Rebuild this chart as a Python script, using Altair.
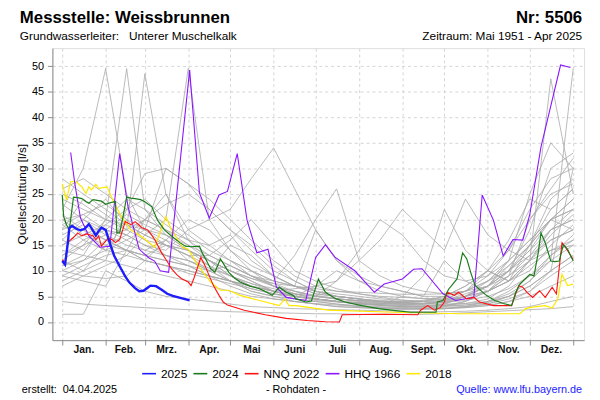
import altair as alt
import pandas as pd

# ---------------- axis data ----------------
month_starts = [0, 31, 59, 90, 120, 151, 181, 212, 243, 273, 304, 334, 365]
month_mids = [15.5, 45, 74.5, 105, 135.5, 166, 196.5, 227.5, 258, 288.5, 319, 349.5]
month_labels = ["Jan.", "Feb.", "Mrz.", "Apr.", "Mai", "Juni", "Juli", "Aug.", "Sept.", "Okt.", "Nov.", "Dez."]
y_ticks = [0, 5, 10, 15, 20, 25, 30, 35, 40, 45, 50]

# ---------------- highlighted series ----------------
series_names = ["2025", "2024", "NNQ 2022", "HHQ 1966", "2018"]
series_colors = ["#1c1cff", "#1a7d1a", "#ff1010", "#8a16ff", "#ffe800"]
series_widths = [2.4, 1.2, 1.1, 1.1, 1.2]

q2025_days = [0, 2, 4, 5, 7, 10, 13, 16, 19, 21, 24, 26, 28, 31, 34, 37, 41, 45, 48, 52, 55, 58, 61, 63, 67, 71, 75, 79, 83, 87, 91]
q2025_vals = [11.9, 11.2, 15.5, 18.3, 18.8, 18.2, 17.9, 18.2, 19.1, 18.3, 16.9, 17.8, 18.4, 18.0, 15.4, 13.0, 10.9, 8.9, 7.7, 6.6, 6.0, 6.1, 6.7, 7.1, 7.0, 6.3, 5.5, 5.1, 4.8, 4.5, 4.2]

q2024_days = [0, 1, 3, 5, 6, 8, 11, 14, 17, 19, 22, 24, 28, 31, 33, 36, 38, 39, 41, 43, 46, 49, 52, 56, 59, 64, 68, 73, 78, 84, 88, 92, 98, 100, 103, 106, 109, 113, 116, 119, 123, 127, 134, 141, 146, 150, 155, 160, 165, 167, 174, 178, 183, 188, 195, 202, 214, 226, 238, 249, 260, 267, 268, 272, 276, 282, 286, 289, 292, 295, 303, 309, 315, 321, 324, 327, 331, 334, 337, 340, 342, 345, 349, 352, 355, 358, 361, 365]
q2024_vals = [24.8, 20.6, 19.0, 18.0, 20.0, 24.4, 24.3, 24.1, 23.5, 23.2, 23.9, 23.8, 23.6, 23.0, 23.2, 23.4, 23.5, 17.4, 17.4, 20.0, 24.4, 24.2, 24.1, 23.9, 23.5, 22.5, 19.9, 18.0, 16.8, 15.5, 14.8, 14.7, 14.8, 13.5, 12.0, 10.4, 9.7, 12.3, 11.0, 9.7, 8.6, 7.8, 7.0, 6.5, 5.8, 5.2, 6.8, 5.8, 5.2, 4.5, 3.9, 4.1, 8.4, 5.8, 4.6, 3.9, 3.2, 2.6, 2.2, 1.9, 1.9, 1.9, 3.9, 4.2, 6.4, 8.4, 13.5, 12.3, 9.5, 7.1, 5.2, 4.2, 3.6, 3.2, 5.8, 7.4, 8.5, 9.3, 9.0, 13.5, 17.4, 15.5, 11.9, 11.8, 11.9, 15.1, 14.2, 11.9]

q2022_days = [0, 2, 4, 5, 8, 11, 14, 17, 19, 22, 24, 26, 28, 31, 33, 36, 38, 41, 45, 49, 52, 55, 57, 61, 63, 66, 71, 75, 78, 82, 85, 90, 92, 94, 99, 102, 105, 108, 112, 115, 118, 130, 145, 160, 175, 188, 198, 200, 230, 254, 256, 261, 266, 270, 273, 275, 280, 283, 289, 294, 298, 308, 321, 326, 329, 332, 336, 341, 345, 350, 353, 357, 359, 365]
q2022_vals = [12.2, 11.6, 15.5, 15.8, 16.5, 17.4, 16.8, 17.2, 17.1, 16.8, 16.1, 16.8, 14.8, 15.8, 16.4, 16.0, 15.5, 16.1, 19.6, 19.0, 19.6, 18.9, 18.4, 18.0, 17.3, 16.1, 13.5, 11.8, 10.4, 9.2, 8.5, 7.8, 7.1, 8.5, 12.6, 11.0, 9.0, 7.1, 5.2, 3.9, 3.3, 2.3, 1.4, 0.7, 0.3, 0.05, 0.0, 1.4, 1.5, 1.4, 2.3, 3.2, 2.3, 2.8, 3.9, 5.8, 5.2, 5.8, 4.5, 4.8, 3.9, 3.2, 3.2, 7.1, 6.8, 5.8, 4.8, 6.1, 4.8, 6.8, 5.5, 15.5, 14.8, 12.2]

q1966_days = [6, 9, 13, 19, 27, 34, 41, 47, 55, 62, 66, 70, 76, 91, 98, 105, 112, 118, 125, 132, 139, 147, 153, 160, 167, 174, 181, 188, 195, 209, 223, 230, 243, 251, 257, 272, 281, 294, 300, 308, 315, 322, 329, 334, 342, 356, 363]
q1966_vals = [33.1, 27.0, 20.3, 16.8, 14.6, 14.8, 32.9, 22.5, 14.2, 12.5, 11.9, 10.0, 9.7, 49.2, 25.2, 20.3, 24.8, 25.5, 32.9, 19.9, 13.5, 14.2, 6.8, 4.8, 4.5, 4.2, 12.6, 15.1, 12.6, 10.0, 5.8, 7.4, 8.4, 10.3, 10.4, 5.5, 4.2, 4.8, 24.8, 19.9, 12.9, 16.1, 16.0, 21.0, 34.2, 50.2, 49.7]

q2018_days = [0, 3, 6, 10, 14, 17, 19, 21, 24, 26, 32, 35, 42, 49, 58, 66, 74, 78, 86, 90, 97, 106, 113, 119, 127, 141, 155, 159, 162, 167, 190, 237, 284, 327, 331, 336, 345, 350, 354, 357, 361, 365]
q2018_vals = [27.0, 23.8, 27.4, 27.4, 26.4, 25.1, 26.4, 25.8, 26.9, 26.1, 26.4, 24.5, 20.6, 18.0, 16.4, 14.6, 20.6, 18.0, 14.6, 14.2, 11.0, 7.8, 6.2, 6.2, 5.2, 4.2, 3.2, 4.5, 3.2, 3.2, 2.3, 1.9, 1.6, 1.6, 2.6, 2.9, 3.2, 2.7, 4.5, 9.3, 7.1, 7.4]

# ---------------- other years (grey), half-monthly readings ----------------
grid_days = [0, 15, 31, 46, 59, 74, 90, 105, 120, 135, 151, 166, 181, 196, 212, 227, 243, 258, 273, 288, 304, 319, 334, 349, 365]
g1951 = [None, None, None, None, None, None, None, None, 12, 10, 8, 7, 6, 5.5, 5, 4.5, 4.2, 4.0, 4.2, 5, 7, 10, 15, 22, 26]
g1952 = [22, 30, 49.5, 25, 18, 15, 13, 10, 8, 6, 5, 4, 3.5, 3, 2.8, 2.6, 2.5, 2.6, 3, 4, 6, 8, 12, 16, 18]
g1953 = [12, 15, 20, 49.5, 22, 17, 14, 11, 8, 6, 5, 4.5, 4, 3.5, 3.2, 3, 2.8, 3, 3.5, 5, 8, 11, 15, 20, 22]
g1954 = [18, 24, 21, 18, 48.5, 25, 16, 12, 9, 7, 5.5, 4.5, 4, 3.5, 3, 2.8, 2.6, 2.5, 2.6, 3, 4, 6, 9, 13, 16]
g1955 = [16, 20, 24, 19, 17, 20, 49.5, 20, 14, 10, 7, 5.5, 4.5, 4, 3.5, 3.3, 3, 3, 3.5, 5, 7, 10, 14, 18, 20]
g1956 = [8, 10, 15, 17, 20, 23, 25, 22, 18, 15, 11, 8, 6, 5, 4.5, 4, 3.8, 4, 5, 7, 10, 14, 20, 25, 27]
g1957 = [26, 28, 25, 22, 20, 18, 15, 12, 10, 8, 6, 5, 4.5, 4, 3.5, 3.2, 3, 3, 3.2, 4, 6, 10, 18, 30, 33]
g1958 = [20, 17, 15, 14, 13, 12, 11, 9, 7, 5.5, 4.5, 4, 3.5, 3, 2.8, 2.6, 2.5, 2.5, 2.6, 3, 3.5, 4.5, 6, 9, 12]
g1959 = [10, 12, 14, 16, 18, 30, 27, 22, 18, 14, 10, 8, 6, 5, 4.5, 4, 3.5, 3.5, 4, 5, 7, 12, 25, 35, 30]
g1960 = [9, 8, 7, 14, 20, 18, 16, 15, 17, 12, 9, 7, 5.5, 5, 4.5, 4, 3.8, 3.5, 3.8, 5, 6, 8, 11, 14, 15]
g1961 = [15, 17, 19, 22, 24, 20, 17, 14, 12, 10, 8, 13, 20, 26, 12, 9, 7, 6, 5.5, 6, 8, 10, 13, 16, 18]
g1962 = [13, 16, 18, 17, 15, 14, 18, 20, 22, 28, 34, 26, 18, 12, 8, 7, 6, 5, 5, 6, 8, 12, 16, 20, 22]
g1963 = [24, 22, 20, 18, 16, 15, 14, 12, 10, 8, 6, 5, 4.5, 4, 3.8, 3.6, 3.5, 3.6, 4, 5, 7, 10, 14, 20, 24]
g1964 = [11, 13, 20, 24, 22, 19, 16, 13, 11, 9, 7, 6, 5, 8, 14, 20, 17, 12, 9, 8, 9, 12, 16, 20, 24]
g1965 = [18, 20, 17, 15, 14, 16, 12, 10, 8, 7, 6, 6.5, 7, 8, 12, 16, 22, 18, 14, 24, 17, 14, 12, 14, 16]
g1967 = [7, 9, 11, 13, 12, 11, 10, 9, 8, 7, 6, 5.5, 5, 4.5, 4.2, 4, 3.8, 3.6, 3.5, 3.6, 4, 5, 7, 10, 13]
g1968 = [4, 3.5, 3.2, 3, 2.8, 2.6, 2.4, 2.2, 2, 1.9, 1.8, 1.7, 1.6, 1.6, 1.5, 1.5, 1.5, 1.5, 1.6, 1.8, 2, 2.2, 2.4, 2.6, 3]
g1969 = [1.5, 1.5, 10, 8, 6, 5, 4.5, 4, 3.5, 3, 2.8, 2.6, 2.5, 2.4, 2.3, 2.2, 2.1, 2.0, 2.0, 2.1, 2.3, 2.6, 3, 4, 5]
g1970 = [20, 21, 23, 20, 18, 16, 20, 18, 14, 11, 9, 7, 6, 5, 4.5, 4.2, 4, 4, 4.5, 6, 9, 14, 22, 28, 30]
g1971 = [16, 14, 19, 17, 15, 13, 12, 10, 15, 13, 9, 7, 5.5, 5, 4.5, 4, 4, 4.2, 5, 7, 10, 8, 12, 18, 20]
g1972 = [21, 18, 16, 14, 12, 11, 10, 9, 8, 7, 6, 5, 4.5, 4, 3.6, 3.4, 3.2, 3, 2.9, 3, 3.5, 5, 8, 12, 15]
g1973 = [12, 10, 12, 22, 29, 30, 27, 24, 20, 16, 12, 9, 7, 6, 5.5, 5, 4.8, 4.6, 4.5, 5, 6, 9, 13, 18, 22]
g1974 = [28, 25, 22, 19, 17, 15, 13, 11, 9, 7.5, 6, 5, 4.5, 4, 3.6, 3.3, 3, 2.8, 2.7, 2.8, 3.2, 4, 5, 7, 9]
g1975 = [9, 11, 13, 14, 13, 12, 11, 10, 11, 9, 8, 7, 18, 12, 9, 7, 6, 5, 12, 8, 6, 9, 20, 26, 32]
g1976 = [14, 13, 12, 11, 10, 9, 8, 7, 6, 5, 4.5, 4, 3.6, 3.3, 3, 2.8, 2.7, 2.6, 2.6, 2.8, 3.2, 4, 6, 10, 30]
g1977 = [17, 19, 16, 14, 12, 11, 9.5, 8.5, 7.5, 6.5, 5.5, 5, 4.5, 4.1, 3.8, 3.6, 3.4, 3.3, 3.3, 3.6, 4.5, 7, 12, 47.5, 25]
g1978 = [19, 21, 18, 16, 14, 13, 12, 10.5, 9, 7.5, 6.5, 5.5, 5, 4.5, 4.2, 4, 3.8, 3.7, 3.8, 4.2, 5, 6.5, 9, 12, 49.5]
g1979 = [10, 9, 8.5, 9, 12, 16, 14, 12, 10, 8.5, 7.5, 7, 6.5, 6, 5.8, 5.6, 5.4, 5.4, 5.5, 6, 7, 9, 12, 17, 21]
g1980 = [25, 23, 20, 19, 18, 17, 15, 13, 11, 9, 7.5, 6, 5, 4.5, 4, 3.7, 3.5, 3.3, 3.2, 3.3, 3.8, 5, 7, 10, 13]
g1981 = [13, 15, 17, 18, 20, 25, 18, 15, 12, 9, 7, 5.5, 4.5, 4, 3.6, 3.4, 3.2, 3.1, 3.1, 3.3, 4, 5.5, 8, 13, 17]
g1982 = [15, 18, 14, 20, 16, 13, 11, 9, 8, 6.5, 5.5, 5, 7, 10, 8, 6, 5, 4.5, 4.4, 6, 10, 16, 24, 22, 26]
g1983 = [23, 20, 18, 21, 19, 17, 14, 12, 10, 8.5, 7, 6, 5.2, 4.6, 4.1, 3.8, 3.6, 3.6, 4.2, 5.5, 7, 11, 15, 24, 28]
g1984 = [11, 12, 16, 14, 13, 15, 14, 12, 9, 7, 6, 5, 4.2, 3.9, 3.6, 3.3, 5, 9, 22, 14, 10, 8, 15, 20, 18]
g1985 = [19, 16, 14, 13, 17, 15, 13, 13, 16, 20, 15, 10, 8, 6.5, 5.5, 4.8, 4.3, 4, 3.8, 4.5, 6, 8, 10, 15, 19]

grey_years = {
    "1951": g1951, "1952": g1952, "1953": g1953, "1954": g1954, "1955": g1955,
    "1956": g1956, "1957": g1957, "1958": g1958, "1959": g1959, "1960": g1960,
    "1961": g1961, "1962": g1962, "1963": g1963, "1964": g1964, "1965": g1965,
    "1967": g1967, "1968": g1968, "1969": g1969, "1970": g1970, "1971": g1971,
    "1972": g1972, "1973": g1973, "1974": g1974, "1975": g1975, "1976": g1976,
    "1977": g1977, "1978": g1978, "1979": g1979, "1980": g1980, "1981": g1981,
    "1982": g1982, "1983": g1983, "1984": g1984, "1985": g1985,
}

# ---------------- tables ----------------
grey_rows = []
for yr, vals in grey_years.items():
    for d, v in zip(grid_days, vals):
        if v is not None:
            grey_rows.append({"year": yr, "day": d, "q": v})
grey_df = pd.DataFrame(grey_rows)

hl_data = {
    "2025": (q2025_days, q2025_vals),
    "2024": (q2024_days, q2024_vals),
    "NNQ 2022": (q2022_days, q2022_vals),
    "HHQ 1966": (q1966_days, q1966_vals),
    "2018": (q2018_days, q2018_vals),
}

FONT = "Liberation Sans"
X_DOMAIN = [-7.05, 372.8]
Y_DOMAIN = [-3.55, 53.5]

x_axis = alt.Axis(values=month_starts, labels=False, title=None, tickSize=5,
                  grid=True, gridDash=[3, 3], gridColor="#d4d4d4",
                  domainColor="#8c8c8c", tickColor="#8c8c8c")
y_axis = alt.Axis(values=y_ticks, title=None, tickSize=5, labelFontSize=11,
                  labelFont=FONT, labelColor="#000", labelPadding=4,
                  grid=True, gridDash=[3, 3], gridColor="#d4d4d4",
                  domainColor="#8c8c8c", tickColor="#8c8c8c")
x_enc = alt.X("day:Q", scale=alt.Scale(domain=X_DOMAIN, nice=False, zero=False), axis=x_axis)
y_enc = alt.Y("q:Q", scale=alt.Scale(domain=Y_DOMAIN, nice=False, zero=False), axis=y_axis)

grey = alt.Chart(grey_df).mark_line(color="#a9a9a9", strokeWidth=0.9, opacity=0.9, clip=True).encode(
    x=x_enc, y=y_enc, detail="year:N",
)

color_scale = alt.Scale(domain=series_names, range=series_colors)
legend = alt.Legend(title=None, orient="none", legendX=90, legendY=322, direction="horizontal",
                    symbolType="stroke", symbolSize=196, symbolStrokeWidth=1.6,
                    labelFontSize=12, labelFont=FONT, labelColor="#000", labelOffset=4,
                    columnPadding=2, padding=0)

hl_layers = []
for name, w in reversed(list(zip(series_names, series_widths))):
    d, v = hl_data[name]
    df = pd.DataFrame({"day": d, "q": v, "series": name})
    hl_layers.append(
        alt.Chart(df).mark_line(clip=True, strokeWidth=w).encode(
            x=x_enc, y=y_enc,
            color=alt.Color("series:N", scale=color_scale, legend=legend),
        )
    )

# month labels below the axis
month_df = pd.DataFrame({"day": month_mids, "label": month_labels})
months = alt.Chart(month_df).mark_text(font=FONT, fontSize=10.5, fontWeight="bold", baseline="middle",
                                      align="center", color="#111").encode(
    x=x_enc, y=alt.value(306), text="label:N")

one = pd.DataFrame({"t": [0]})
NB = "\u00a0"


def txt(s, x, y, size, align="left", weight="normal", color="#000", angle=0, baseline="alphabetic"):
    return alt.Chart(one).mark_text(text=s, font=FONT, fontSize=size, fontWeight=weight, align=align,
                                    baseline=baseline, color=color, angle=angle).encode(
        x=alt.value(x), y=alt.value(y))


texts = [
    txt("Messstelle: Weissbrunnen", -33, -25, 17, weight="bold"),
    txt("Nr: 5506", 537, -25, 17, align="right", weight="bold"),
    txt("Grundwasserleiter:" + NB * 3 + "Unterer Muschelkalk", -33, -8.5, 12),
    txt("Zeitraum: Mai 1951 - Apr 2025", 537, -8.5, 12, align="right"),
    txt("Quellschüttung [l/s]", -31, 148, 12, align="center", angle=270, baseline="middle"),
    txt("erstellt:" + NB * 2 + "04.04.2025", -31, 350, 11),
    txt("- Rohdaten -", 247, 350, 11, align="center"),
    txt("Quelle: www.lfu.bayern.de", 537, 350, 11, align="right", color="#1c1cff"),
]

chart = alt.layer(grey, *hl_layers, months, *texts).properties(
    width=539, height=296,
    autosize=alt.AutoSizeParams(type="none"),
    padding={"left": 45, "top": 38, "right": 8, "bottom": 58},
).configure_view(stroke="#b4b4b4", strokeWidth=1).configure(background="white")

chart.save("out.html", embed_options={"renderer": "svg", "actions": False})
